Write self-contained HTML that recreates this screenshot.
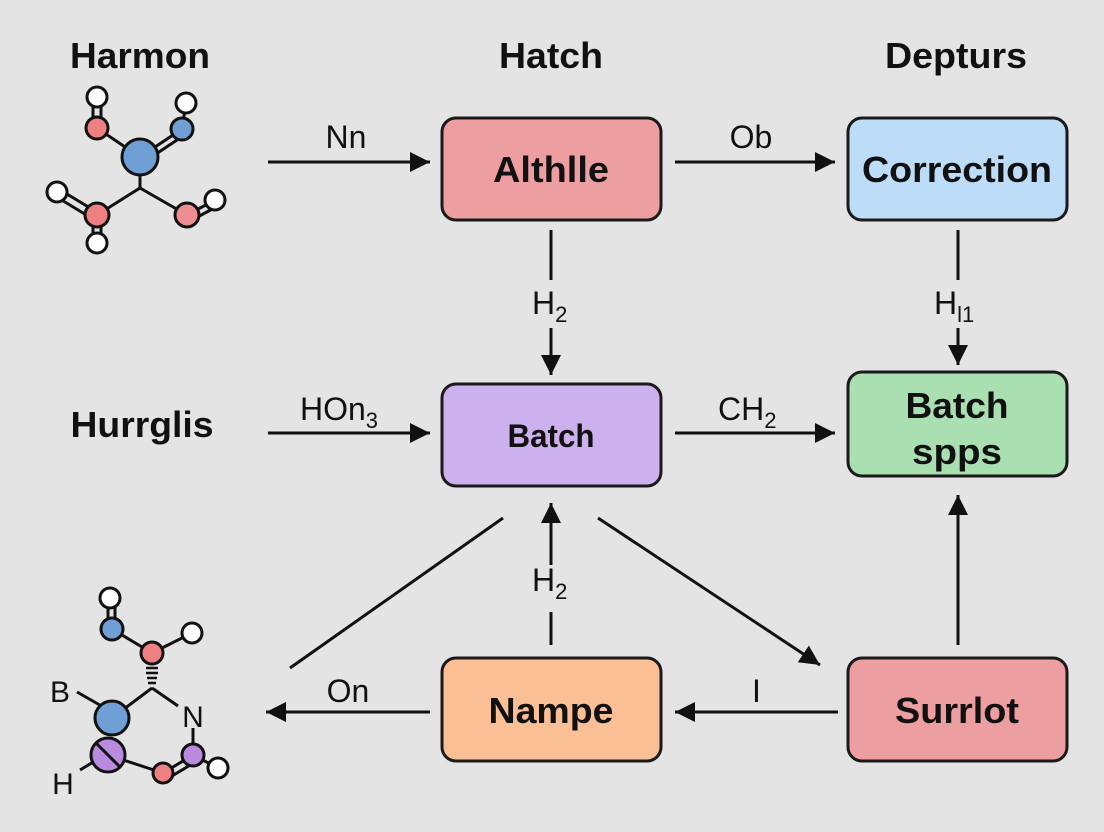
<!DOCTYPE html>
<html><head><meta charset="utf-8"><style>
html,body{margin:0;padding:0;background:#e4e4e4;}
svg{display:block;}
text{font-family:"Liberation Sans",Arial,sans-serif;fill:#111;}
.b{font-weight:bold;}
</style></head><body>
<svg width="1104" height="832" viewBox="0 0 1104 832" xmlns="http://www.w3.org/2000/svg">
<defs>
<marker id="a2" viewBox="0 0 10 10" markerWidth="22" markerHeight="20" refX="10" refY="5" orient="auto" markerUnits="userSpaceOnUse">
<path d="M0,0 L10,5 L0,10 Z" fill="#111"/>
</marker>
</defs>
<rect width="1104" height="832" fill="#e4e4e4"/>

<!-- titles -->
<text x="140" y="68" class="b" font-size="36" text-anchor="middle" textLength="140" lengthAdjust="spacingAndGlyphs">Harmon</text>
<text x="551" y="68" class="b" font-size="36" text-anchor="middle" textLength="104" lengthAdjust="spacingAndGlyphs">Hatch</text>
<text x="956" y="68" class="b" font-size="36" text-anchor="middle" textLength="142" lengthAdjust="spacingAndGlyphs">Depturs</text>
<text x="142" y="437" class="b" font-size="36" text-anchor="middle" textLength="143" lengthAdjust="spacingAndGlyphs">Hurrglis</text>

<!-- boxes -->
<g stroke="#1a1a1a" stroke-width="3">
<rect x="442" y="118" width="219" height="102" rx="14" fill="#ec9ea1"/>
<rect x="848" y="118" width="219" height="102" rx="14" fill="#bcdcf7"/>
<rect x="442" y="384" width="219" height="102" rx="14" fill="#cdb0ee"/>
<rect x="848" y="372" width="219" height="104" rx="14" fill="#a9dfb1"/>
<rect x="442" y="658" width="219" height="103" rx="14" fill="#fbbf96"/>
<rect x="848" y="658" width="219" height="103" rx="14" fill="#ec9ea1"/>
</g>
<text x="551" y="182" class="b" font-size="36" text-anchor="middle" textLength="116" lengthAdjust="spacingAndGlyphs">Althlle</text>
<text x="957" y="182" class="b" font-size="36" text-anchor="middle" textLength="190" lengthAdjust="spacingAndGlyphs">Correction</text>
<text x="551" y="447" class="b" font-size="32" text-anchor="middle" textLength="87" lengthAdjust="spacingAndGlyphs">Batch</text>
<text x="957" y="418" class="b" font-size="36" text-anchor="middle" textLength="103" lengthAdjust="spacingAndGlyphs">Batch</text>
<text x="957" y="464" class="b" font-size="36" text-anchor="middle" textLength="90" lengthAdjust="spacingAndGlyphs">spps</text>
<text x="551" y="723" class="b" font-size="36" text-anchor="middle" textLength="125" lengthAdjust="spacingAndGlyphs">Nampe</text>
<text x="957" y="723" class="b" font-size="36" text-anchor="middle" textLength="124" lengthAdjust="spacingAndGlyphs">Surrlot</text>

<!-- arrows -->
<g stroke="#111" stroke-width="3" fill="none">
<line x1="268" y1="162" x2="430" y2="162" marker-end="url(#a2)"/>
<line x1="675" y1="162" x2="835" y2="162" marker-end="url(#a2)"/>
<line x1="551" y1="230" x2="551" y2="280"/>
<line x1="551" y1="328" x2="551" y2="375" marker-end="url(#a2)"/>
<line x1="958" y1="230" x2="958" y2="280"/>
<line x1="958" y1="328" x2="958" y2="365" marker-end="url(#a2)"/>
<line x1="268" y1="433" x2="430" y2="433" marker-end="url(#a2)"/>
<line x1="675" y1="433" x2="835" y2="433" marker-end="url(#a2)"/>
<line x1="503" y1="518" x2="290" y2="668"/>
<line x1="551" y1="645" x2="551" y2="612"/>
<line x1="551" y1="565" x2="551" y2="503" marker-end="url(#a2)"/>
<line x1="598" y1="518" x2="820" y2="665" marker-end="url(#a2)"/>
<line x1="958" y1="645" x2="958" y2="495" marker-end="url(#a2)"/>
<line x1="838" y1="712" x2="675" y2="712" marker-end="url(#a2)"/>
<line x1="430" y1="712" x2="266" y2="712" marker-end="url(#a2)"/>
</g>
<g font-size="32">
<text x="346" y="148" text-anchor="middle">Nn</text>
<text x="751" y="148" text-anchor="middle">Ob</text>
<text x="532" y="314">H<tspan font-size="22" dy="8">2</tspan></text>
<text x="934" y="314">H<tspan font-size="22" dy="8">l1</tspan></text>
<text x="300" y="420">HOn<tspan font-size="22" dy="8">3</tspan></text>
<text x="718" y="420">CH<tspan font-size="22" dy="8">2</tspan></text>
<text x="532" y="591">H<tspan font-size="22" dy="8">2</tspan></text>
<text x="752" y="702">I</text>
<text x="348" y="702" text-anchor="middle">On</text>
</g>

<!-- top molecule -->
<g stroke="#111" stroke-width="3">
<line x1="140" y1="157" x2="97" y2="128"/>
<line x1="93" y1="97" x2="93" y2="128"/><line x1="101" y1="97" x2="101" y2="128"/>
<line x1="140" y1="157" x2="182" y2="129"/><line x1="144" y1="162" x2="186" y2="134"/>
<line x1="182" y1="129" x2="186" y2="103"/>
<line x1="140" y1="157" x2="140" y2="188"/>
<line x1="140" y1="188" x2="97" y2="215"/><line x1="140" y1="188" x2="187" y2="215"/>
<line x1="57" y1="188" x2="95" y2="211"/><line x1="55" y1="196" x2="93" y2="219"/>
<line x1="93" y1="215" x2="93" y2="243"/><line x1="101" y1="215" x2="101" y2="243"/>
<line x1="187" y1="215" x2="215" y2="200"/><line x1="190" y1="221" x2="218" y2="206"/>
</g>
<g stroke="#111" stroke-width="3">
<circle cx="97" cy="97" r="10" fill="#fff"/>
<circle cx="186" cy="103" r="10" fill="#fff"/>
<circle cx="57" cy="192" r="10" fill="#fff"/>
<circle cx="97" cy="243" r="10" fill="#fff"/>
<circle cx="215" cy="200" r="10" fill="#fff"/>
<circle cx="97" cy="128" r="11" fill="#ef8082"/>
<circle cx="182" cy="129" r="11" fill="#6f9fd4"/>
<circle cx="140" cy="157" r="18" fill="#6f9fd4"/>
<circle cx="97" cy="215" r="12" fill="#ef8082"/>
<circle cx="187" cy="215" r="12" fill="#ee8e90"/>
</g>

<!-- bottom molecule -->
<g stroke="#111" stroke-width="3">
<line x1="108" y1="598" x2="108" y2="629"/><line x1="115" y1="598" x2="115" y2="629"/>
<line x1="112" y1="629" x2="152" y2="653"/>
<line x1="152" y1="653" x2="192" y2="633"/>
<line x1="152" y1="688" x2="112" y2="718"/>
<line x1="152" y1="688" x2="178" y2="706"/>
<line x1="77" y1="692" x2="105" y2="708"/>
<line x1="193" y1="728" x2="193" y2="755"/>
<line x1="108" y1="755" x2="163" y2="773"/>
<line x1="163" y1="773" x2="193" y2="755"/><line x1="167" y1="779" x2="197" y2="761"/>
<line x1="193" y1="755" x2="218" y2="768"/>
<line x1="80" y1="770" x2="100" y2="758"/>
</g>
<g stroke="#111" stroke-width="2.5">
<line x1="146" y1="668" x2="158" y2="668"/>
<line x1="146" y1="673" x2="158" y2="673"/>
<line x1="147" y1="678" x2="157" y2="678"/>
<line x1="148" y1="683" x2="156" y2="683"/>
</g>
<g stroke="#111" stroke-width="3">
<circle cx="110" cy="598" r="10" fill="#fff"/>
<circle cx="192" cy="633" r="10" fill="#fff"/>
<circle cx="218" cy="768" r="10" fill="#fff"/>
<circle cx="112" cy="629" r="11" fill="#6f9fd4"/>
<circle cx="152" cy="653" r="11" fill="#ef8082"/>
<circle cx="112" cy="718" r="17" fill="#6f9fd4"/>
<circle cx="108" cy="755" r="17" fill="#b98ade"/>
<line x1="96" y1="743" x2="120" y2="767"/>
<circle cx="163" cy="773" r="10" fill="#ef8082"/>
<circle cx="193" cy="755" r="11" fill="#b98ade"/>
</g>
<text x="60" y="702" font-size="30" text-anchor="middle">B</text>
<text x="193" y="727" font-size="30" text-anchor="middle">N</text>
<text x="63" y="794" font-size="30" text-anchor="middle">H</text>
</svg>
</body></html>
